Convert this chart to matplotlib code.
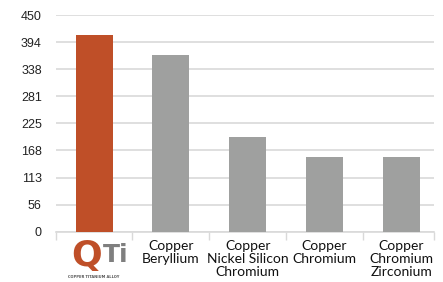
import matplotlib.pyplot as plt
import matplotlib.transforms as mtransforms

categories = ["", "Copper\nBeryllium", "Copper\nNickel Silicon\nChromium",
              "Copper\nChromium", "Copper\nChromium\nZirconium"]
values = [408, 367, 197, 155, 155]
bar_colors = ["#BF4F28", "#9FA09F", "#9FA09F", "#9FA09F", "#9FA09F"]
ytick_vals = [0, 56.25, 112.5, 168.75, 225, 281.25, 337.5, 393.75, 450]
ytick_labels = ["0", "56", "113", "168", "225", "281", "338", "394", "450"]

fig = plt.figure(figsize=(4.43, 2.82), dpi=100)
ax = fig.add_axes([0.1257, 0.1784, 0.853, 0.768])

x = range(len(values))
ax.bar(x, values, width=0.48, color=bar_colors, zorder=3)

ax.set_ylim(0, 450)
ax.set_xlim(-0.5, 4.42)
ax.set_yticks(ytick_vals)
ax.set_yticklabels(ytick_labels, fontsize=9, family="Liberation Sans", color="#222222")
ax.tick_params(axis="y", length=0, pad=10)
ax.grid(axis="y", color="#D9D9D9", linewidth=1.2, zorder=0)

# boundary ticks between categories, labels centred under bars
ax.set_xticks([-0.5, 0.5, 1.5, 2.5, 3.5, 4.42])
ax.set_xticklabels([])
ax.tick_params(axis="x", length=6, color="#D9D9D9", width=1)
blend = mtransforms.blended_transform_factory(ax.transData, ax.transAxes)
for i, lab in enumerate(categories):
    ax.text(i, -0.04, lab, transform=blend, ha="center", va="top",
            fontsize=10, family="Lato", linespacing=1.08, color="#111111")

for s in ["top", "right", "left"]:
    ax.spines[s].set_visible(False)
ax.spines["bottom"].set_color("#D9D9D9")
ax.spines["bottom"].set_linewidth(1.2)

# QTi logo under first bar
ax.text(0.1, -0.035, "Q", transform=blend, ha="right", va="top", fontsize=26,
        fontweight="bold", family="DejaVu Sans", color="#BF4F28")
ax.text(0.11, -0.05, "Ti", transform=blend, ha="left", va="top", fontsize=18,
        fontweight="bold", family="DejaVu Sans", color="#7F7F7F")
ax.text(0.0, -0.2, "COPPER TITANIUM ALLOY", transform=blend, ha="center", va="top",
        fontsize=2.6, fontweight="bold", family="DejaVu Sans", color="#555555")
ax.plot([-0.34, 0.34], [-0.24, -0.24], transform=blend, color="#BF4F28",
        linewidth=0.8, clip_on=False)

fig.savefig("out.png", dpi=100)
